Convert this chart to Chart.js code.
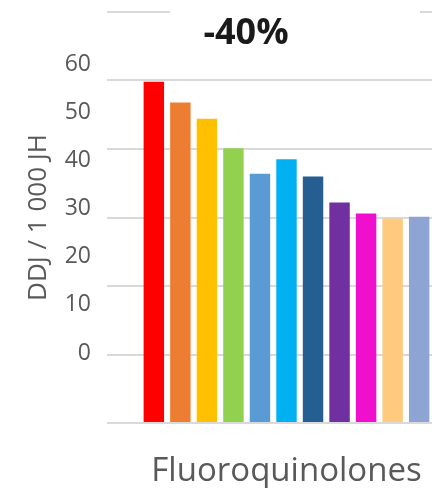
<!DOCTYPE html>
<html>
<head>
<meta charset="utf-8">
<script src="https://cdn.jsdelivr.net/npm/chart.js@4/dist/chart.umd.min.js"></script>
<style>
  html, body { margin: 0; padding: 0; background: #fff; overflow: hidden; }
  canvas { display: block; }
</style>
</head>
<body>
<canvas id="chart" width="466" height="488"></canvas>
<script>
// Data
const categories = ['Fluoroquinolones'];
const seriesNames = ['Série 1', 'Série 2', 'Série 3', 'Série 4', 'Série 5', 'Série 6',
  'Série 7', 'Série 8', 'Série 9', 'Série 10', 'Série 11'];
const seriesValues = [49.8, 46.8, 44.4, 40.1, 36.4, 38.5, 36.0, 32.2, 30.6, 29.85, 30.1];
const seriesColors = ['#ff0000', '#ed7d31', '#ffc000', '#92d050', '#5b9bd5', '#00b0f0',
  '#255e91', '#7030a0', '#f00fcc', '#ffca7e', '#8ea5d4'];
const yTickLabels = [0, 10, 20, 30, 40, 50, 60];
const titleText = '-40%';
const yAxisTitle = 'DDJ / 1 000 JH';

const textGrey = '#595959';
const gridGrey = '#d9d9d9';

// title over a white box that hides the middle of the top grid line
const titleBox = {
  id: 'titleBox',
  afterDraw(chart) {
    const ctx = chart.ctx;
    ctx.save();
    ctx.fillStyle = '#fff';
    ctx.fillRect(170, 0, 250, 22);
    ctx.fillStyle = '#1a1a1a';
    ctx.font = 'bold 36px "Open Sans"';
    ctx.textAlign = 'center';
    ctx.textBaseline = 'alphabetic';
    ctx.fillText(titleText, 246, 44);
    ctx.restore();
  }
};

function noPadding(scale) {
  scale.paddingTop = 0;
  scale.paddingBottom = 0;
  scale.paddingLeft = 0;
  scale.paddingRight = 0;
}

const datasets = seriesNames.map((name, i) => ({
  label: name,
  data: [seriesValues[i]],
  backgroundColor: seriesColors[i],
  borderWidth: 0,
  categoryPercentage: 0.813,
  barPercentage: 0.77
}));

new Chart(document.getElementById('chart'), {
  type: 'bar',
  data: { labels: categories, datasets },
  plugins: [titleBox],
  options: {
    responsive: false,
    animation: false,
    layout: { padding: { top: 12, right: 0, bottom: 0, left: 0 } },
    plugins: {
      legend: { display: false },
      tooltip: { enabled: false },
      title: { display: false }
    },
    scales: {
      x: {
        grid: { display: false, drawTicks: false },
        border: { display: false },
        ticks: {
          color: textGrey,
          font: { family: 'Open Sans', size: 33 },
          padding: 29
        },
        afterFit(scale) { scale.height = 65; noPadding(scale); }
      },
      y: {
        min: 0,
        max: 60,
        weight: 1,
        ticks: { display: false, stepSize: 10 },
        grid: { color: gridGrey, lineWidth: 2, drawTicks: false },
        border: { display: false },
        afterFit(scale) { scale.width = 0; noPadding(scale); }
      },
      yl: {
        position: 'left',
        weight: 2,
        min: -14.53,
        max: 70.8,
        grid: { display: false, drawTicks: false },
        border: { display: false },
        afterBuildTicks(scale) {
          scale.ticks = yTickLabels.map(v => ({ value: v }));
        },
        ticks: {
          color: textGrey,
          font: { family: 'Open Sans', size: 23 },
          padding: 16
        },
        title: {
          display: true,
          text: yAxisTitle,
          color: textGrey,
          font: { family: 'Open Sans', size: 26 },
          padding: { top: 23, bottom: 0 }
        },
        afterFit(scale) { scale.width = 107; noPadding(scale); }
      }
    }
  }
});
</script>
</body>
</html>
